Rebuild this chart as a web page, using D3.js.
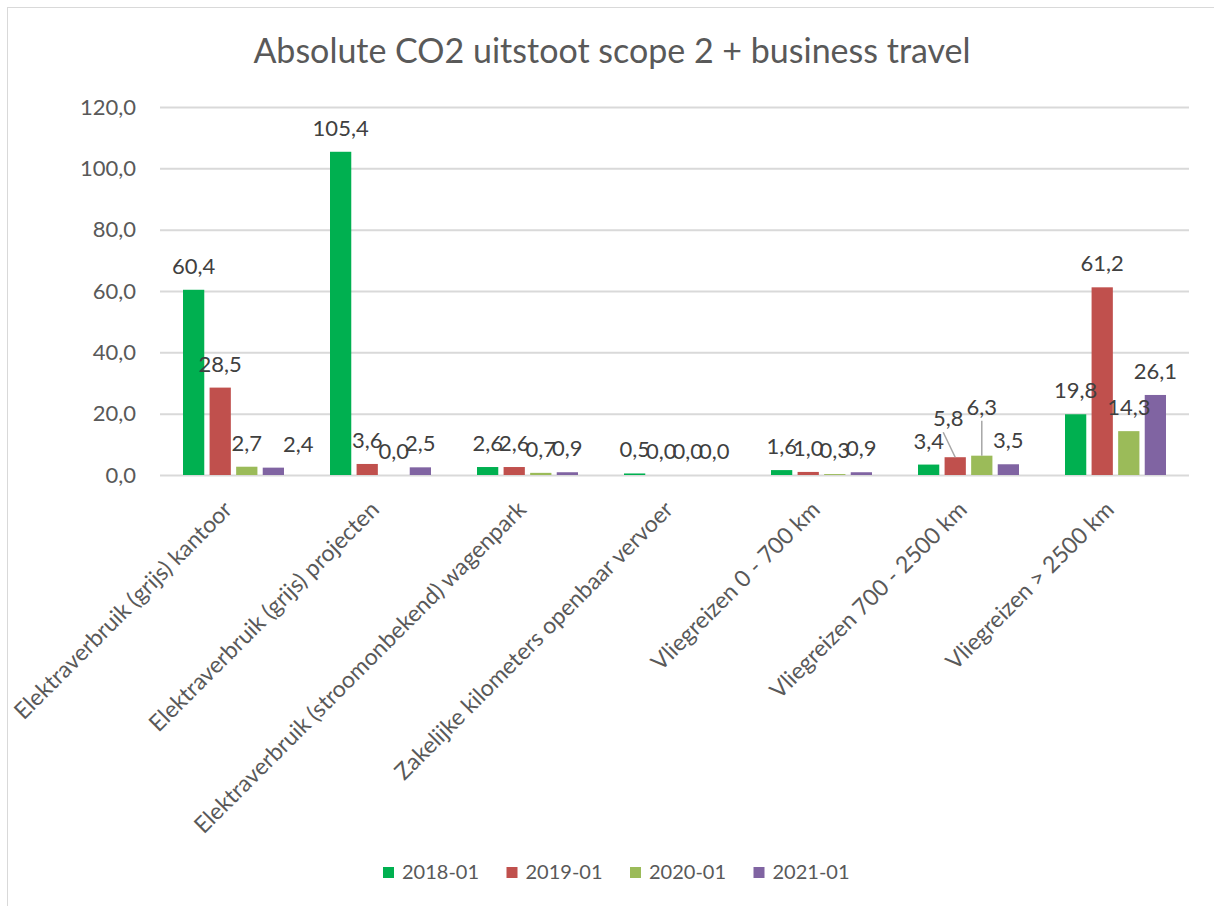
<!DOCTYPE html>
<html>
<head>
<meta charset="utf-8">
<script src="https://cdn.jsdelivr.net/npm/d3@7"></script>
<style>
  body { margin: 0; background: #fff; }
  text { font-family: Lato, "Open Sans", sans-serif; }
</style>
</head>
<body>
<div id="chart"></div>
<script>
// the data
const categories = [
  "Elektraverbruik (grijs) kantoor",
  "Elektraverbruik (grijs) projecten",
  "Elektraverbruik (stroomonbekend) wagenpark",
  "Zakelijke kilometers openbaar vervoer",
  "Vliegreizen 0 - 700 km",
  "Vliegreizen 700 - 2500 km",
  "Vliegreizen > 2500 km"
];
const seriesNames = ["2018-01", "2019-01", "2020-01", "2021-01"];
const v2018 = [60.4, 105.4, 2.6, 0.5, 1.6, 3.4, 19.8];
const v2019 = [28.5, 3.6, 2.6, 0.0, 1.0, 5.8, 61.2];
const v2020 = [2.7, 0.0, 0.7, 0.0, 0.3, 6.3, 14.3];
const v2021 = [2.4, 2.5, 0.9, 0.0, 0.9, 3.5, 26.1];
const yTicks = [0, 20, 40, 60, 80, 100, 120];

const colors = ["#00B050", "#C0504D", "#9BBB59", "#8064A2"];

// a few labels were moved by hand in the original (cat index, series index -> dx, dy)
const labelShift = { "0-3": [25, 0], "5-1": [-7, -15], "5-2": [0, -25] };
const leaderLines = ["5-1", "5-2"];

const W = 1214, H = 906;
const margin = { top: 107, right: 25, bottom: 431, left: 160 };
const width = W - margin.left - margin.right;
const height = H - margin.top - margin.bottom;

const svg = d3.select("#chart")
  .append("svg")
    .attr("width", W)
    .attr("height", H);

// chart border (only left/top show in the screenshot)
svg.append("rect")
  .attr("x", 7.5).attr("y", 7.5)
  .attr("width", W + 20).attr("height", H + 20)
  .attr("fill", "#fff")
  .attr("stroke", "#d9d9d9");

svg.append("text")
  .attr("x", 612).attr("y", 63)
  .attr("text-anchor", "middle")
  .style("font-size", "34px")
  .style("fill", "#595959")
  .text("Absolute CO2 uitstoot scope 2 + business travel");

const g = svg.append("g").attr("transform", `translate(${margin.left},${margin.top})`);

const x0 = d3.scaleBand().domain(categories).range([0, width])
  .paddingInner(0.313).paddingOuter(0.1565);
const x1 = d3.scaleBand().domain(seriesNames).range([0, x0.bandwidth()])
  .paddingInner(0.2);
const y = d3.scaleLinear().domain([0, 120]).range([height, 0]);

// grid + y labels
g.append("g")
  .call(d3.axisLeft(y).tickValues(yTicks).tickSize(-width).tickFormat(d => d3.format(".1f")(d).replace(".", ",")))
  .call(a => a.select(".domain").remove())
  .call(a => a.selectAll("line").attr("stroke", "#d9d9d9").attr("stroke-width", 2))
  .call(a => a.selectAll("text").attr("x", -24).attr("fill", "#595959").style("font-size", "22px"));

const table = categories.map((c, i) => ({
  cat: c, ci: i,
  vals: [v2018[i], v2019[i], v2020[i], v2021[i]]
}));

const groups = g.selectAll(".grp")
  .data(table)
  .join("g")
    .attr("class", "grp")
    .attr("transform", d => `translate(${x0(d.cat)},0)`);

groups.selectAll("rect")
  .data(d => d.vals.map((v, si) => ({ v, si, ci: d.ci })))
  .join("rect")
    .attr("x", d => x1(seriesNames[d.si]))
    .attr("y", d => y(d.v))
    .attr("width", x1.bandwidth())
    .attr("height", d => height - y(d.v))
    .attr("fill", d => colors[d.si]);

// data labels
groups.selectAll(".lbl")
  .data(d => d.vals.map((v, si) => ({ v, si, ci: d.ci })))
  .join("text")
    .attr("class", "lbl")
    .attr("text-anchor", "middle")
    .attr("x", d => x1(seriesNames[d.si]) + x1.bandwidth() / 2 + (labelShift[d.ci + "-" + d.si] || [0, 0])[0])
    .attr("y", d => y(d.v) - 16 + (labelShift[d.ci + "-" + d.si] || [0, 0])[1])
    .style("font-size", "22px")
    .style("fill", "#404040")
    .text(d => d3.format(".1f")(d.v).replace(".", ","));

// leader lines for the moved labels
groups.selectAll(".lead")
  .data(d => d.vals.map((v, si) => ({ v, si, ci: d.ci })).filter(p => leaderLines.includes(p.ci + "-" + p.si)))
  .join("line")
    .attr("class", "lead")
    .attr("x1", d => x1(seriesNames[d.si]) + x1.bandwidth() / 2 + labelShift[d.ci + "-" + d.si][0] - (d.si === 1 ? 5 : 0))
    .attr("y1", d => y(d.v) - 16 + labelShift[d.ci + "-" + d.si][1] + 6)
    .attr("x2", d => x1(seriesNames[d.si]) + x1.bandwidth() / 2)
    .attr("y2", d => y(d.v))
    .attr("stroke", "#a6a6a6")
    .attr("stroke-width", 1.5);

// category labels, rotated
g.append("g")
  .selectAll("text")
  .data(categories)
  .join("text")
    .attr("transform", d => `translate(${x0(d) + x0.bandwidth() / 2},${height + 36}) rotate(-45)`)
    .attr("text-anchor", "end")
    .style("font-size", "23px")
    .style("fill", "#595959")
    .text(d => d);

// legend
const legend = svg.append("g").attr("transform", "translate(383,867)");
const item = legend.selectAll("g")
  .data(seriesNames)
  .join("g")
    .attr("transform", (d, i) => `translate(${i * 123.5},0)`);
item.append("rect")
  .attr("width", 11).attr("height", 11)
  .attr("fill", (d, i) => colors[i]);
item.append("text")
  .attr("x", 19).attr("y", 12)
  .style("font-size", "20px")
  .style("fill", "#595959")
  .text(d => d);
</script>
</body>
</html>
